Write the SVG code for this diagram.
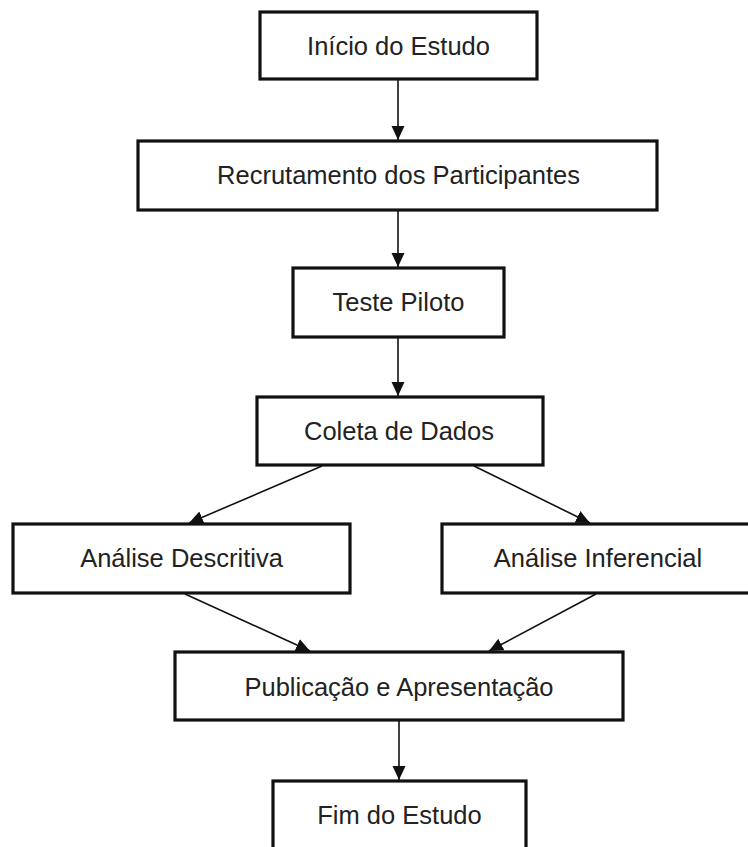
<svg xmlns="http://www.w3.org/2000/svg" width="748" height="847" viewBox="0 0 748 847">
  <style>
    .box rect { fill: #ffffff; stroke: #111111; stroke-width: 3.2; }
    .box text { font-family: "Liberation Sans", Arial, sans-serif; font-size: 25.5px; fill: #222222; text-anchor: middle; }
    .edge { stroke: #111111; stroke-width: 1.6; fill: none; marker-end: url(#arrow); }
  </style>
  <defs>
    <marker id="arrow" markerUnits="userSpaceOnUse" markerWidth="15" markerHeight="15" viewBox="0 0 15 15" refX="14" refY="7.5" orient="auto">
      <path d="M0,1 L14,7.5 L0,14 Z" fill="#111111"/>
    </marker>
  </defs>
  <rect width="748" height="847" fill="#ffffff"/>

  <g id="connectors">
    <line class="edge" x1="398" y1="80" x2="398" y2="140"/>
    <line class="edge" x1="398" y1="211" x2="398" y2="267"/>
    <line class="edge" x1="398" y1="338" x2="398" y2="396"/>
    <line class="edge" x1="322" y1="466" x2="189" y2="523"/>
    <line class="edge" x1="474" y1="466" x2="590" y2="523"/>
    <line class="edge" x1="185" y1="594" x2="310" y2="651"/>
    <line class="edge" x1="596" y1="594" x2="489" y2="651"/>
    <line class="edge" x1="399" y1="721" x2="399" y2="780"/>
  </g>

  <g id="inicio" class="box">
    <rect x="260" y="12" width="277" height="67"/>
    <text x="398.5" y="55">Início do Estudo</text>
  </g>
  <g id="recrutamento" class="box">
    <rect x="138" y="141" width="519" height="69"/>
    <text x="398.5" y="184">Recrutamento dos Participantes</text>
  </g>
  <g id="piloto" class="box">
    <rect x="293" y="268" width="211" height="69"/>
    <text x="398.5" y="311">Teste Piloto</text>
  </g>
  <g id="coleta" class="box">
    <rect x="257" y="397" width="286" height="68"/>
    <text x="399" y="440">Coleta de Dados</text>
  </g>
  <g id="descritiva" class="box">
    <rect x="13" y="524" width="337" height="69"/>
    <text x="181.5" y="567">Análise Descritiva</text>
  </g>
  <g id="inferencial" class="box">
    <rect x="442" y="524" width="312" height="69"/>
    <text x="598" y="567">Análise Inferencial</text>
  </g>
  <g id="publicacao" class="box">
    <rect x="175" y="652" width="448" height="68"/>
    <text x="399" y="696">Publicação e Apresentação</text>
  </g>
  <g id="fim" class="box">
    <rect x="273" y="781" width="253" height="80"/>
    <text x="399.5" y="824">Fim do Estudo</text>
  </g>
</svg>
